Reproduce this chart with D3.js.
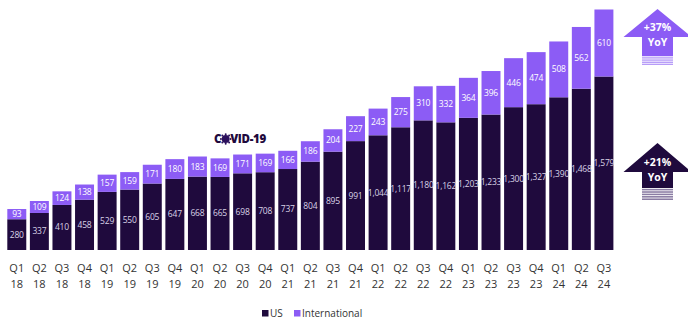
<!DOCTYPE html>
<html>
<head>
<meta charset="utf-8">
<script src="https://cdn.jsdelivr.net/npm/d3@7"></script>
<style>
  html, body { margin: 0; padding: 0; background: #fff; }
  svg { display: block; font-family: "Open Sans", "Lato", sans-serif; }
</style>
</head>
<body>
<svg id="chart" width="688" height="324"></svg>
<script>
// Quarterly revenue split, US vs International
const quarters = ["Q1","Q2","Q3","Q4","Q1","Q2","Q3","Q4","Q1","Q2","Q3","Q4","Q1","Q2","Q3","Q4",
                  "Q1","Q2","Q3","Q4","Q1","Q2","Q3","Q4","Q1","Q2","Q3"];
const years = ["18","18","18","18","19","19","19","19","20","20","20","20","21","21","21","21",
               "22","22","22","22","23","23","23","23","24","24","24"];
const usValues = [280,337,410,458,529,550,605,647,668,665,698,708,737,804,895,991,
                  1044,1117,1180,1162,1203,1233,1300,1327,1390,1468,1579];
const intlValues = [93,109,124,138,157,159,171,180,183,169,171,169,166,186,204,227,
                    243,275,310,332,364,396,446,474,508,562,610];
const seriesNames = ["US", "International"];
const growthLabels = ["+37%", "+21%"];

const colors = { US: "#1f0a3d", International: "#8c5cf5" };

const keys = quarters.map((q, i) => q + " " + years[i]);
const rows = keys.map((k, i) => ({ key: k, US: usValues[i], International: intlValues[i] }));

const svg = d3.select("#chart");

const x = d3.scaleBand()
  .domain(keys)
  .range([5.5, 615.2])
  .paddingInner(0.16)
  .paddingOuter(0.08);

const y = d3.scaleLinear()
  .domain([0, d3.max(rows, d => d.US + d.International)])
  .range([250, 9.5]);

const stack = d3.stack().keys(seriesNames)(rows);

const fmt = d3.format(",");

// stacked bars
const layers = svg.append("g").selectAll("g")
  .data(stack)
  .join("g")
  .attr("fill", d => colors[d.key]);

layers.selectAll("rect")
  .data(d => d)
  .join("rect")
  .attr("x", d => x(d.data.key))
  .attr("width", x.bandwidth())
  .attr("y", d => y(d[1]))
  .attr("height", d => y(d[0]) - y(d[1]));

// value labels centred in each segment
stack.forEach(layer => {
  svg.append("g").selectAll("text")
    .data(layer)
    .join("text")
    .attr("x", d => x(d.data.key) + x.bandwidth() / 2)
    .attr("y", d => (y(d[0]) + y(d[1])) / 2)
    .attr("dy", "0.35em")
    .attr("text-anchor", "middle")
    .attr("font-size", 8.5)
    .attr("letter-spacing", -0.2)
    .attr("fill", layer.key === "US" ? "#d9d2e6" : "#ffffff")
    .text(d => fmt(d.data[layer.key]));
});

// x-axis category labels (quarter over year)
const xAxis = svg.append("g").attr("font-size", 11).attr("fill", "#333");
xAxis.selectAll("text.q")
  .data(rows)
  .join("text")
  .attr("class", "q")
  .attr("x", d => x(d.key) + x.bandwidth() / 2)
  .attr("y", 268)
  .attr("dy", "0.35em")
  .attr("text-anchor", "middle")
  .text((d, i) => quarters[i]);
xAxis.selectAll("text.yr")
  .data(rows)
  .join("text")
  .attr("class", "yr")
  .attr("x", d => x(d.key) + x.bandwidth() / 2)
  .attr("y", 284)
  .attr("dy", "0.35em")
  .attr("text-anchor", "middle")
  .text((d, i) => years[i]);

// COVID-19 marker, with the "O" drawn as a virus glyph
const covid = svg.append("g").attr("transform", "translate(240,139)");
const covidText = covid.append("text")
  .attr("text-anchor", "middle")
  .attr("dy", "0.35em")
  .attr("font-size", 11.5)
  .attr("font-weight", 800)
  .attr("fill", "#1f0a3d")
  .attr("letter-spacing", -0.3)
  .text("COVID-19");
{
  const node = covidText.node();
  const total = node.getComputedTextLength();
  const start = node.getSubStringLength(0, 1);
  const oWidth = node.getSubStringLength(1, 1);
  const ox = -total / 2 + start + oWidth / 2;
  const virus = covid.append("g").attr("transform", `translate(${ox},0)`);
  virus.append("rect").attr("x", -oWidth / 2).attr("y", -6).attr("width", oWidth).attr("height", 12).attr("fill", "#fff");
  virus.append("circle").attr("r", 3.9).attr("fill", "#2a0f5c");
  d3.range(8).forEach(k => {
    const a = k * Math.PI / 4;
    virus.append("circle")
      .attr("cx", Math.cos(a) * 4.8).attr("cy", Math.sin(a) * 4.8)
      .attr("r", 1).attr("fill", "#2a0f5c");
  });
}

// growth arrows
function arrow(cx, tipY, baseY, bodyBottom, stripeBottom, fill, stripe, label) {
  const g = svg.append("g");
  const halfHead = 34, halfBody = 15.5;
  g.append("path")
    .attr("d", `M${cx},${tipY} L${cx + halfHead},${baseY} L${cx + halfBody},${baseY}
                L${cx + halfBody},${bodyBottom} L${cx - halfBody},${bodyBottom}
                L${cx - halfBody},${baseY} L${cx - halfHead},${baseY} Z`)
    .attr("fill", fill);
  const n = 5;
  const step = (stripeBottom - bodyBottom) / n;
  for (let i = 0; i < n; i++) {
    g.append("rect")
      .attr("x", cx - halfBody)
      .attr("width", halfBody * 2)
      .attr("y", bodyBottom + i * step + step * 0.35)
      .attr("height", step * 0.65)
      .attr("fill", stripe);
  }
  g.append("text")
    .attr("x", cx).attr("y", baseY - 6)
    .attr("text-anchor", "middle")
    .attr("font-size", 10.5).attr("font-weight", 700)
    .attr("fill", "#fff")
    .text(label);
  g.append("text")
    .attr("x", cx).attr("y", baseY + 8.5)
    .attr("text-anchor", "middle")
    .attr("font-size", 10.5).attr("font-weight", 700)
    .attr("fill", "#fff")
    .text("YoY");
}
arrow(657.5, 9, 37, 56, 65, colors.International, "#b79cf8", growthLabels[0]);
arrow(657.5, 143, 172, 188, 200, colors.US, "#8a7ca3", growthLabels[1]);

// legend
const legend = svg.append("g").attr("font-size", 10).attr("fill", "#333");
const legendItems = [{ name: seriesNames[0], x: 262 }, { name: seriesNames[1], x: 294 }];
legend.selectAll("rect")
  .data(legendItems)
  .join("rect")
  .attr("x", d => d.x).attr("y", 310)
  .attr("width", 6.5).attr("height", 6.5)
  .attr("fill", d => colors[d.name]);
legend.selectAll("text")
  .data(legendItems)
  .join("text")
  .attr("x", d => d.x + 8).attr("y", 313)
  .attr("dy", "0.35em")
  .text(d => d.name);
</script>
</body>
</html>
